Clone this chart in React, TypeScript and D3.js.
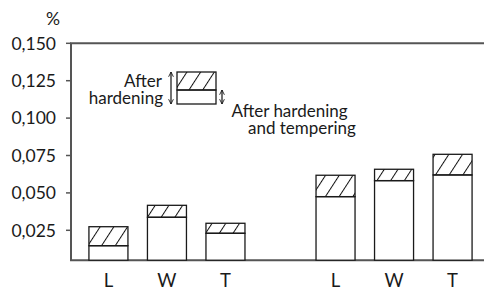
import * as d3 from 'd3'

const groups = ['g1', 'g2']
const categories = ['L', 'W', 'T']
// lower part: after hardening and tempering; total top: after hardening
const temperedG1 = [0.0147, 0.0337, 0.023]
const hardenedG1 = [0.0274, 0.0417, 0.0297]
const temperedG2 = [0.0475, 0.0582, 0.062]
const hardenedG2 = [0.0618, 0.0658, 0.0758]
const yTicks = [0.025, 0.05, 0.075, 0.1, 0.125, 0.15]
const yMin = 0.005
const yMax = 0.15

const W = 484
const H = 290
const FONT = 'Lato, "Open Sans", sans-serif'
const INK = '#1a1a1a'
const AXIS = '#555'

export default function App() {
  const left = 71
  const right = 490
  const y = d3.scaleLinear().domain([0, yMax]).range([267.7, 43.3])
  const x0 = d3.scaleBand<string>().domain(groups).range([left, right]).paddingInner(0.227).paddingOuter(0.036)
  const x1 = d3.scaleBand<string>().domain(categories).range([0, x0.bandwidth()]).paddingInner(1 / 3).paddingOuter(1 / 6)
  const fmt = (v: number) => d3.format('.3f')(v).replace('.', ',')

  const bars = groups.flatMap((g, gi) =>
    categories.map((c, i) => ({
      key: `${g}-${c}`,
      cat: c,
      x: (x0(g) ?? 0) + (x1(c) ?? 0),
      lo: gi === 0 ? temperedG1[i] : temperedG2[i],
      hi: gi === 0 ? hardenedG1[i] : hardenedG2[i],
    }))
  )
  const bw = x1.bandwidth()
  const bottom = y(yMin)

  // legend box
  const lgX = 177
  const lgTop = 72
  const lgMid = 90
  const lgBot = 104
  const lgW = 39

  return (
    <svg width={W} height={H} style={{ position: 'absolute', left: 0, top: 0 }} fontFamily={FONT}>
      <defs>
        <pattern id="hatch" patternUnits="userSpaceOnUse" width={11.5} height={11.5} patternTransform="rotate(33)">
          <line x1={0} y1={0} x2={0} y2={11.5} stroke="#111" strokeWidth={2} />
        </pattern>
        <marker id="ah" viewBox="0 0 10 10" refX={9} refY={5} markerWidth={6} markerHeight={6} orient="auto-start-reverse" markerUnits="userSpaceOnUse">
          <path d="M1,1 L9,5 L1,9" fill="none" stroke="#111" strokeWidth={1.4} />
        </marker>
      </defs>
      <rect width={W} height={H} fill="#fff" />

      {/* frame */}
      <path d={`M${right},${y(yMax)}H${left}V${bottom}H${right}`} fill="none" stroke={AXIS} strokeWidth={2} />

      {/* y ticks */}
      {yTicks.map((t) => (
        <g key={t} transform={`translate(0,${y(t)})`}>
          <line x1={left - 5} x2={left} stroke={AXIS} strokeWidth={1.5} />
          <text x={56} dy="0.36em" textAnchor="end" fontSize={17.5} fill={INK}>{fmt(t)}</text>
        </g>
      ))}
      <text x={53} y={25} textAnchor="middle" fontSize={17.5} fill={INK}>%</text>

      {/* bars */}
      {bars.map((b) => (
        <g key={b.key}>
          <rect x={b.x} y={y(b.lo)} width={bw} height={bottom - y(b.lo)} fill="#fff" stroke={INK} strokeWidth={1.3} />
          <rect x={b.x} y={y(b.hi)} width={bw} height={y(b.lo) - y(b.hi)} fill="url(#hatch)" stroke={INK} strokeWidth={1.3} />
          <text x={b.x + bw / 2} y={287} textAnchor="middle" fontSize={18.5} fill={INK}>{b.cat}</text>
        </g>
      ))}

      {/* legend */}
      <rect x={lgX} y={lgMid} width={lgW} height={lgBot - lgMid} fill="#fff" stroke={INK} strokeWidth={1.3} />
      <rect x={lgX} y={lgTop} width={lgW} height={lgMid - lgTop} fill="url(#hatch)" stroke={INK} strokeWidth={1.3} />
      <line x1={171} x2={171} y1={lgTop} y2={lgBot} stroke="#111" strokeWidth={1.2} markerStart="url(#ah)" markerEnd="url(#ah)" />
      <line x1={222} x2={222} y1={lgMid} y2={lgBot} stroke="#111" strokeWidth={1.2} markerStart="url(#ah)" markerEnd="url(#ah)" />
      <text textAnchor="end" fontSize={17} fill={INK}>
        <tspan x={162} y={86.5}>After</tspan>
        <tspan x={163} y={104}>hardening</tspan>
      </text>
      <text fontSize={17} fill={INK}>
        <tspan x={231.5} y={117}>After hardening</tspan>
        <tspan x={248} y={134}>and tempering</tspan>
      </text>
    </svg>
  )
}
